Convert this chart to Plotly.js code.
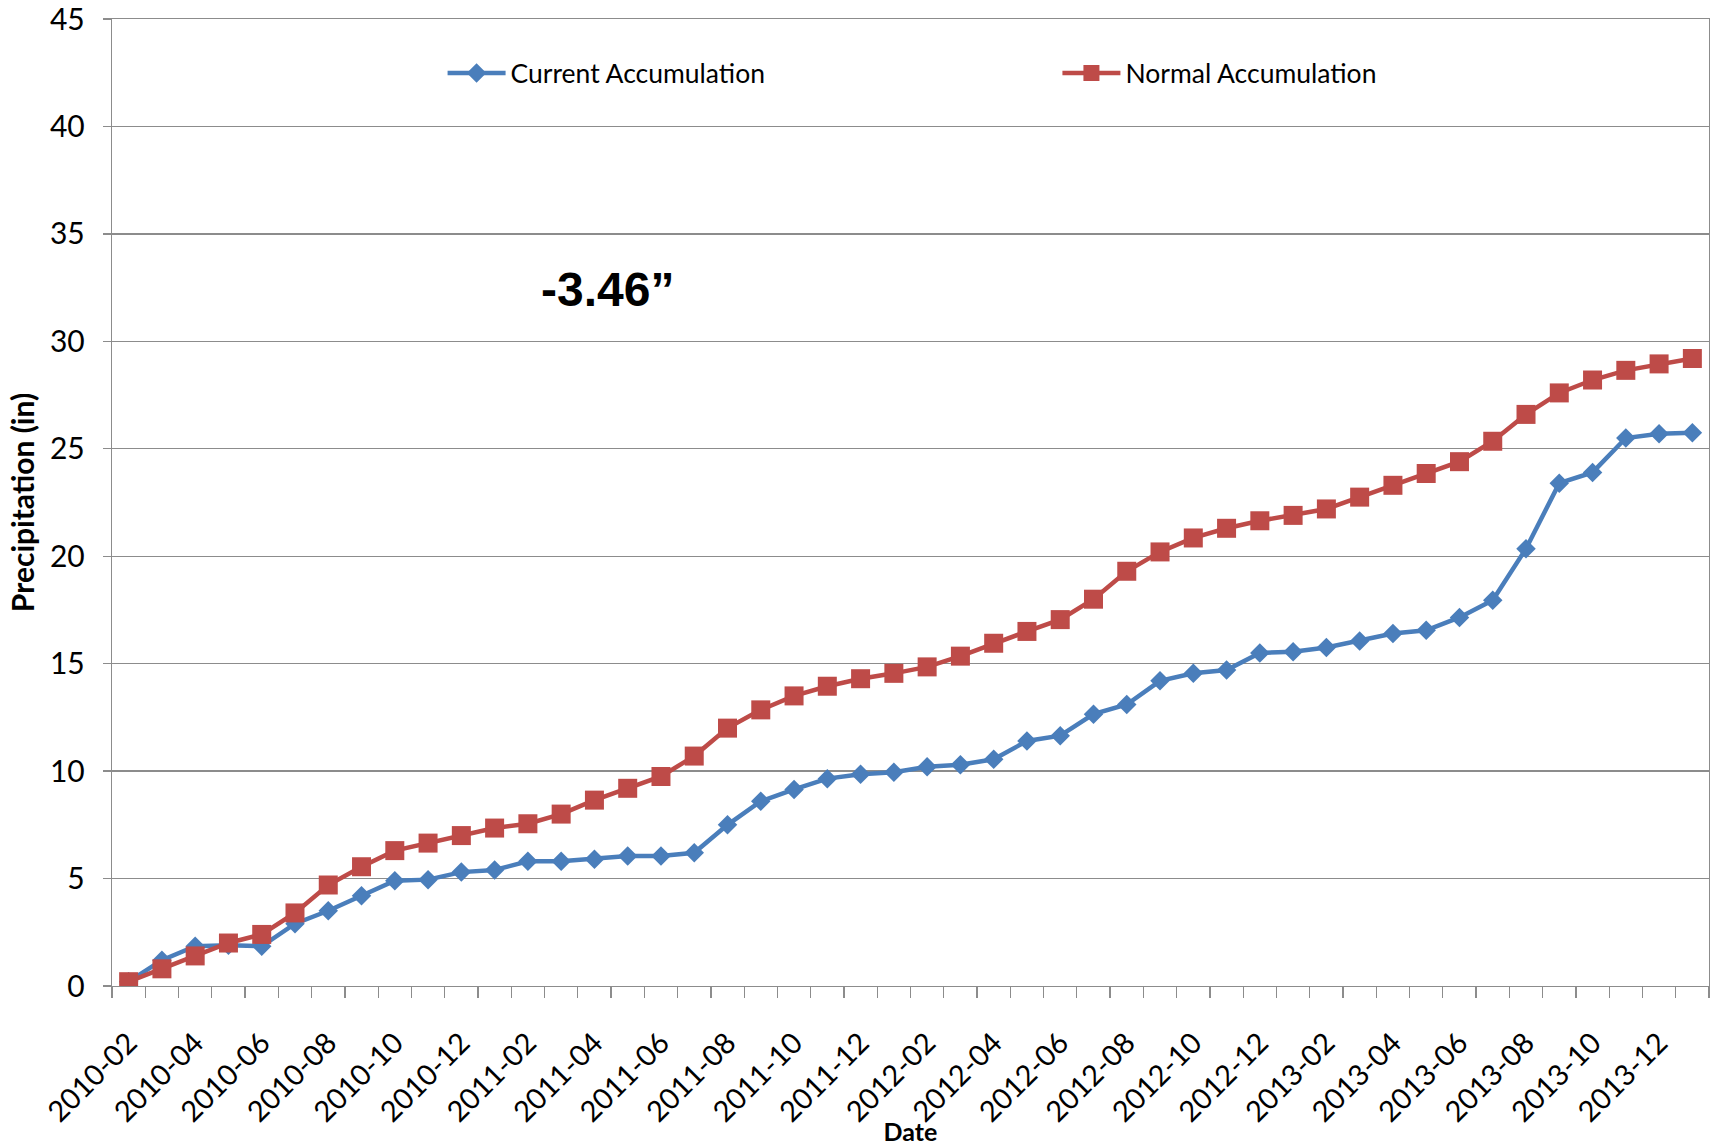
<!DOCTYPE html>
<html>
<head>
<meta charset="utf-8">
<script src="https://cdn.plot.ly/plotly-3.0.1.min.js"></script>
<style>html,body{margin:0;padding:0;background:#fff;}#chart{width:1715px;height:1146px;}</style>
</head>
<body>
<div id="chart"></div>
<script>
const months = ["2010-02","2010-03","2010-04","2010-05","2010-06","2010-07","2010-08","2010-09","2010-10","2010-11","2010-12","2011-01",
"2011-02","2011-03","2011-04","2011-05","2011-06","2011-07","2011-08","2011-09","2011-10","2011-11","2011-12","2012-01",
"2012-02","2012-03","2012-04","2012-05","2012-06","2012-07","2012-08","2012-09","2012-10","2012-11","2012-12","2013-01",
"2013-02","2013-03","2013-04","2013-05","2013-06","2013-07","2013-08","2013-09","2013-10","2013-11","2013-12","2014-01"];

const currentAccum = [0.2,1.2,1.85,1.9,1.85,2.9,3.5,4.2,4.9,4.95,5.3,5.4,
5.8,5.8,5.9,6.05,6.05,6.2,7.5,8.6,9.15,9.65,9.85,9.95,
10.2,10.3,10.55,11.4,11.65,12.65,13.1,14.2,14.55,14.7,15.5,15.55,
15.75,16.05,16.4,16.55,17.15,17.95,20.35,23.4,23.9,25.5,25.7,25.75];

const normalAccum = [0.2,0.8,1.4,2.0,2.4,3.4,4.7,5.55,6.3,6.65,7.0,7.35,
7.55,8.0,8.65,9.2,9.75,10.7,12.0,12.85,13.5,13.95,14.3,14.55,
14.85,15.35,15.95,16.5,17.05,18.0,19.3,20.2,20.85,21.3,21.65,21.9,
22.2,22.75,23.3,23.85,24.4,25.35,26.6,27.6,28.2,28.65,28.95,29.2];

const tickLabels = ["2010-02","","2010-04","","2010-06","","2010-08","","2010-10","","2010-12","",
"2011-02","","2011-04","","2011-06","","2011-08","","2011-10","","2011-12","",
"2012-02","","2012-04","","2012-06","","2012-08","","2012-10","","2012-12","",
"2013-02","","2013-04","","2013-06","","2013-08","","2013-10","","2013-12",""];

const yTicks = [0,5,10,15,20,25,30,35,40,45];

const FONT = "Lato, 'Open Sans', sans-serif";
const GRID = "#8c8c8c";

const traces = [
  {
    x: months, y: currentAccum, name: "Current Accumulation", type: "scatter", mode: "lines+markers",
    legend: "legend",
    line: {color: "#4a7ebb", width: 4.5},
    marker: {symbol: "diamond", size: 15, color: "#4a7ebb"}
  },
  {
    x: months, y: normalAccum, name: "Normal Accumulation", type: "scatter", mode: "lines+markers",
    legend: "legend2",
    line: {color: "#be4b48", width: 4.5},
    marker: {symbol: "square", size: 19, color: "#be4b48"}
  }
];

const legendCommon = {
  orientation: "h", xanchor: "left", y: 0.944, yanchor: "middle",
  font: {family: FONT, size: 26.5, color: "#000"},
  itemwidth: 58,
  bgcolor: "rgba(0,0,0,0)"
};

const layout = {
  width: 1715, height: 1146,
  margin: {l: 112, r: 6, t: 19, b: 160, autoexpand: false},
  paper_bgcolor: "#ffffff", plot_bgcolor: "#ffffff",
  font: {family: FONT, color: "#000"},
  showlegend: true,
  legend: Object.assign({}, legendCommon, {x: 0.207}),
  legend2: Object.assign({}, legendCommon, {x: 0.592}),
  xaxis: {
    type: "category",
    range: [-0.5, 47.5],
    tickvals: months, ticktext: tickLabels,
    tickson: "boundaries",
    tickangle: -45,
    ticks: "outside", ticklen: 11, tickcolor: GRID, tickwidth: 1.3,
    showgrid: false, zeroline: false,
    showline: true, linecolor: GRID, linewidth: 1.3, mirror: true,
    tickfont: {family: FONT, size: 29, color: "#000"},
    ticklabelstandoff: 27,
    ticklabeloverflow: "allow",
    title: {text: "<b>Date</b>", font: {family: FONT, size: 25, color: "#000"}, standoff: 11},
    automargin: false,
    fixedrange: true
  },
  yaxis: {
    range: [0, 45], tickvals: yTicks,
    ticks: "outside", ticklen: 8, tickcolor: GRID, tickwidth: 1.3,
    showgrid: true, gridcolor: GRID, gridwidth: 1.3,
    zeroline: false,
    showline: true, linecolor: GRID, linewidth: 1.3, mirror: true,
    tickfont: {family: FONT, size: 30, color: "#000"},
    ticklabelstandoff: 12,
    ticklabeloverflow: "allow",
    title: {text: "<b>Precipitation (in)</b>", font: {family: FONT, size: 30, color: "#000"}, standoff: 6},
    automargin: false,
    fixedrange: true
  },
  annotations: [
    {
      xref: "paper", yref: "paper", x: 0.31, y: 0.72, xanchor: "center", yanchor: "middle",
      text: "<b>-3.46\u201d</b>", showarrow: false,
      font: {family: "'Liberation Sans', Arial, sans-serif", size: 48, color: "#000"}
    }
  ]
};

Plotly.newPlot("chart", traces, layout, {displayModeBar: false, staticPlot: true});
</script>
</body>
</html>
